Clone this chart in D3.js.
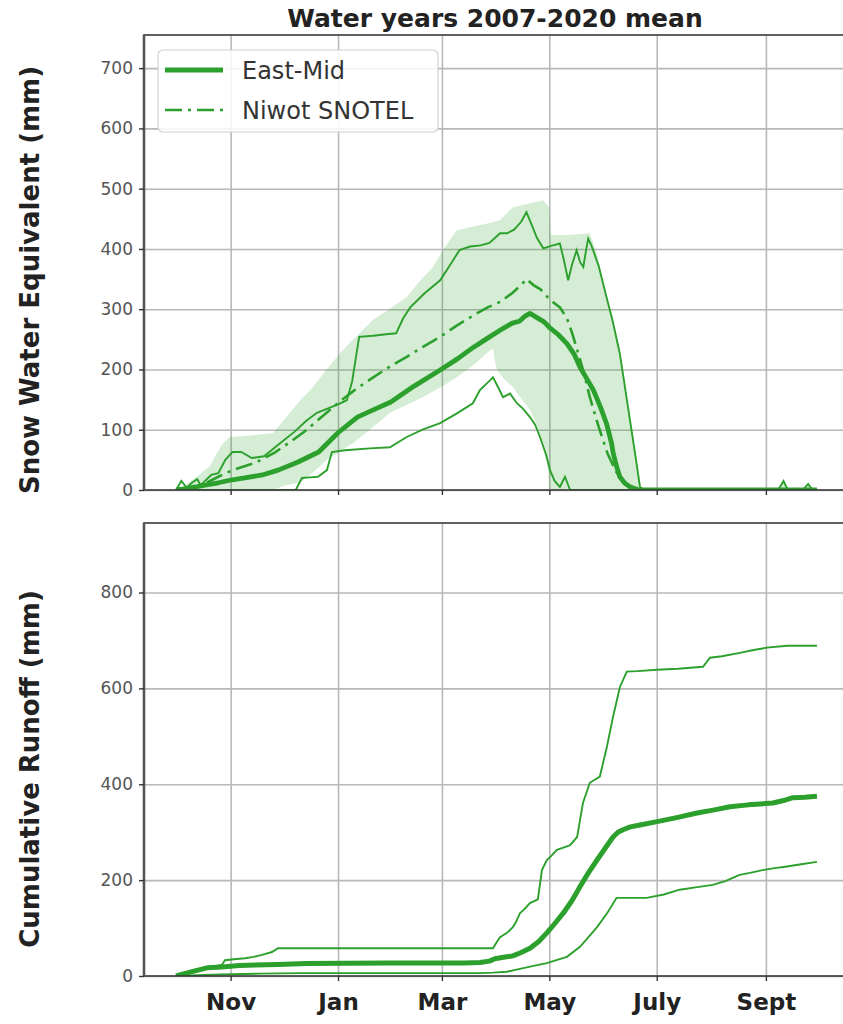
<!DOCTYPE html>
<html>
<head>
<meta charset="utf-8">
<script src="https://cdn.jsdelivr.net/npm/d3@7.9.0/dist/d3.min.js"></script>
<style>
  body { margin: 0; background: #fff; }
  svg { display: block; font-family: 'DejaVu Sans', sans-serif; }
</style>
</head>
<body>
<svg id="chart" width="843" height="1024"></svg>
<script>
// x values are days since Oct 1 (start of the water year)
const monthTickDays = [31, 92, 151, 212, 273, 335];
const monthTickLabels = ['Nov', 'Jan', 'Mar', 'May', 'July', 'Sept'];

const sweTicks = [0, 100, 200, 300, 400, 500, 600, 700];
const runoffTicks = [0, 200, 400, 600, 800];

// Snow water equivalent (mm)
const sweEastMid = [[0,0],[5,2],[11,5],[18,9],[24,12],[32,17],[39,20],[49,25],[58,33],[69,46],[81,63],[92,95],[103,121],[112,133],[122,146],[135,172],[150,199],[160,218],[169,237],[177,252],[184,265],[188,272],[191,277],[195,280],[198,288],[201,293],[205,286],[209,279],[212,270],[217,258],[222,243],[226,226],[229.4,204],[233,186],[237,166],[241,138],[244.5,110],[247.4,77],[248.3,61],[250.2,39],[252,22],[255,11],[258,5],[263,0],[364,0]];

const sweNiwot = [[0,0],[8,4],[16,10],[24,22],[32,33],[45,45],[56,62],[65,80],[73,97],[83,122],[93,147],[102,167],[112,187],[121,204],[131,221],[140,237],[150,254],[159,272],[169,290],[177,303],[184,312],[191,327],[196,340],[199,350],[203,340],[207,333],[211,320],[214,312],[218,303],[222,285],[225,260],[229,221],[232,190],[235,154],[240,105],[245,61],[250,30],[254,12],[258,4],[262,0],[364,0]];

const sweMax = [[0,0],[3,15],[6,4],[9,12],[12,18],[14,8],[16,14],[20,25],[24,28],[28,50],[32,63],[37,63],[43,53],[50,56],[58,75],[67,96],[74,115],[80,128],[86,135],[92,142],[97,149],[100,180],[104,254],[112,256],[118,258],[125,260],[129,285],[133,303],[141,326],[150,348],[156,375],[161,398],[167,404],[173,406],[178,410],[184,426],[188,426],[192,432],[196,445],[199,461],[202,440],[205,418],[208.6,401],[213,405],[218,409],[220,385],[222.7,348],[225,375],[227.5,398],[229.5,378],[231.3,370],[232.7,395],[234.1,417],[236,405],[240,372],[244.5,320],[248,280],[252,227],[255,170],[257.8,116],[261,55],[263.5,5],[266,0],[342,0],[345,15],[347.5,0],[356,0],[359,10],[361.5,0],[364,0]];

const sweMin = [[0,0],[68,0],[71.5,20],[76,21],[80.6,22],[85.7,33],[88.5,63],[96,66],[110,69],[121.5,71],[131,88],[140,100],[150,111],[160,128],[168.6,144],[172.6,166],[178.3,182],[180,187],[183,170],[185.7,154],[189.7,160],[193.6,144],[197,135],[201,121],[204,108],[206.7,88],[210,60],[212.4,33],[215,15],[218,5],[220.9,22],[223.8,0],[364,0]];

const sweBandUpper = [[0,0],[5,8],[10.8,20],[15,30],[19.3,40],[23,60],[26,75],[30.6,88],[40,90],[55,94],[64.7,128],[71,150],[77.8,171],[85,198],[93.1,227],[100,248],[111.8,282],[121,300],[131,320],[138,345],[145.9,370],[152,400],[159.5,431],[170,438],[178.3,443],[184,448],[191.3,469],[200,475],[208.4,481],[211.8,470],[212.9,423],[223.8,423],[235,426],[239,393],[244.5,320],[248,280],[252,227],[255,170],[257.8,116],[261,55],[263.5,5],[266,0],[342,0],[345,15],[347.5,0],[356,0],[359,10],[361.5,0],[364,0]];

const sweBandLower = [[0,0],[55,0],[62,8],[70,12],[76,25],[80,35],[85.7,50],[92,62],[100.5,78],[110,100],[121.5,128],[130,140],[140,154],[150,170],[159.5,187],[170,210],[178.3,232],[180,235],[181,215],[182.3,199],[186,185],[191.3,171],[196,152],[201,133],[206,100],[210.6,61],[211.8,0],[364,0]];

// Cumulative runoff (mm)
const runoffEastMid = [[0,0],[8,8],[17.6,17],[26,19],[36,22],[58,24],[74,26],[120,27],[164,27],[172.6,28],[178,31],[181,36],[186,39],[191.3,42],[196,49],[201,58],[206,72],[210.6,90],[215,109],[219.9,131],[225,158],[229.4,186],[234,214],[239.1,242],[244,268],[248.2,290],[251,300],[253.8,305],[258,311],[263.5,315],[273.2,322],[285,331],[295.9,340],[305,346],[314.6,353],[325,357],[339,361],[345,366],[350.3,372],[357,373],[364,375]];

const runoffMax = [[0,0],[5,6],[10.8,13],[18,18],[26,23],[27.8,33],[33,35],[39.2,37],[44,40],[48.8,44],[54.5,50],[57.9,58],[180,58],[182,70],[184,81],[188,90],[191.3,102],[193,112],[195.3,131],[198,140],[201,152],[205.5,160],[207.8,221],[210.6,242],[213,250],[216.3,263],[220,268],[223.8,273],[227.8,290],[231.1,361],[235,403],[238,410],[240.7,416],[244.7,478],[248.2,541],[252.1,603],[256,635],[262,636],[273.2,639],[285,641],[299.3,645],[303.2,664],[310,667],[320.2,674],[328,680],[335.6,685],[347,689],[364,689]];

const runoffMin = [[0,0],[25,3],[47.7,5],[70.4,6],[172.6,6],[180,7],[187.9,9],[195.3,15],[203,21],[210.6,27],[216,33],[222,40],[229.4,61],[234,80],[239.1,102],[245,132],[250.2,163],[267.3,163],[277,170],[286,180],[295,185],[304.7,190],[312,198],[320,211],[326,215],[333,221],[340,225],[346,228],[355,233],[364,238]];

const green = '#2ca02c';
const svg = d3.select('#chart');

// matplotlib-like 5% margins around the water year
const pad = 364 * 0.05;
const x = d3.scaleLinear().domain([0 - pad, 364 + pad]).range([144, 849]);

const sweY = d3.scaleLinear().domain([0, 755]).range([490, 35]);
const runoffY = d3.scaleLinear().domain([0, 945]).range([976, 523]);

function panel(y, ticks, id, showLabels) {
  const [y0, y1] = y.range();
  const [x0, x1] = x.range();
  const g = svg.append('g');

  g.append('clipPath').attr('id', id)
    .append('rect').attr('x', x0).attr('y', y1)
    .attr('width', x1 - x0).attr('height', y0 - y1);

  // grid
  g.append('g').attr('transform', `translate(0,${y0})`)
    .call(d3.axisBottom(x).tickValues(monthTickDays).tickSize(-(y0 - y1)).tickFormat(''))
    .call((s) => s.select('.domain').remove())
    .selectAll('line').attr('stroke', '#b8b8b8').attr('stroke-width', 1.6);
  g.append('g').attr('transform', `translate(${x0},0)`)
    .call(d3.axisLeft(y).tickValues(ticks).tickSize(-(x1 - x0)).tickFormat(''))
    .call((s) => s.select('.domain').remove())
    .selectAll('line').attr('stroke', '#b8b8b8').attr('stroke-width', 1.6);

  const plot = g.append('g').attr('clip-path', `url(#${id})`);

  // frame
  g.append('rect').attr('x', x0).attr('y', y1)
    .attr('width', x1 - x0).attr('height', y0 - y1)
    .attr('fill', 'none').attr('stroke', '#3a3a3a').attr('stroke-width', 1.6);
  g.append('line').attr('x1', x0).attr('x2', x0).attr('y1', y1).attr('y2', y0)
    .attr('stroke', '#555').attr('stroke-width', 2.6);

  // ticks
  const yAxis = g.append('g').attr('transform', `translate(${x0},0)`)
    .call(d3.axisLeft(y).tickValues(ticks).tickSize(5).tickPadding(6));
  yAxis.select('.domain').remove();
  yAxis.selectAll('line').attr('stroke', '#333').attr('stroke-width', 1.4);
  yAxis.selectAll('text').attr('font-size', 17).attr('fill', '#555')
    .attr('font-family', 'DejaVu Sans');

  const xAxis = g.append('g').attr('transform', `translate(0,${y0})`)
    .call(d3.axisBottom(x).tickValues(monthTickDays).tickSize(5).tickPadding(13)
      .tickFormat((d, i) => (showLabels ? monthTickLabels[i] : '')));
  xAxis.select('.domain').remove();
  xAxis.selectAll('line').attr('stroke', '#333').attr('stroke-width', 1.4);
  xAxis.selectAll('text').attr('font-size', 23).attr('font-weight', 'bold')
    .attr('fill', '#222').attr('font-family', 'DejaVu Sans');

  return plot;
}

const line = (y) => d3.line().x((d) => x(d[0])).y((d) => y(d[1]));

// top panel
const swePlot = panel(sweY, sweTicks, 'clipTop', false);
swePlot.append('path')
  .datum(sweBandUpper.concat(sweBandLower.slice().reverse()))
  .attr('d', (d) => line(sweY)(d) + 'Z')
  .attr('fill', green).attr('fill-opacity', 0.2).attr('stroke', 'none');
[sweMax, sweMin].forEach((s) => {
  swePlot.append('path').datum(s).attr('d', line(sweY))
    .attr('fill', 'none').attr('stroke', green).attr('stroke-width', 1.9);
});
swePlot.append('path').datum(sweNiwot).attr('d', line(sweY))
  .attr('fill', 'none').attr('stroke', green).attr('stroke-width', 2.6)
  .attr('stroke-dasharray', '17,6,3,6');
swePlot.append('path').datum(sweEastMid).attr('d', line(sweY))
  .attr('fill', 'none').attr('stroke', green).attr('stroke-width', 4.8)
  .attr('stroke-linejoin', 'round');

// bottom panel
const runoffPlot = panel(runoffY, runoffTicks, 'clipBot', true);
[runoffMax, runoffMin].forEach((s) => {
  runoffPlot.append('path').datum(s).attr('d', line(runoffY))
    .attr('fill', 'none').attr('stroke', green).attr('stroke-width', 1.9);
});
runoffPlot.append('path').datum(runoffEastMid).attr('d', line(runoffY))
  .attr('fill', 'none').attr('stroke', green).attr('stroke-width', 5)
  .attr('stroke-linejoin', 'round');

// title
svg.append('text').attr('x', 495).attr('y', 27).attr('text-anchor', 'middle')
  .attr('font-size', 25).attr('font-weight', 'bold').attr('fill', '#222')
  .text('Water years 2007-2020 mean');

// y labels
svg.append('text').attr('transform', 'translate(39,280) rotate(-90)')
  .attr('text-anchor', 'middle').attr('font-size', 26).attr('font-weight', 'bold')
  .attr('fill', '#222').text('Snow Water Equivalent (mm)');
svg.append('text').attr('transform', 'translate(39,769) rotate(-90)')
  .attr('text-anchor', 'middle').attr('font-size', 26).attr('font-weight', 'bold')
  .attr('fill', '#222').text('Cumulative Runoff (mm)');

// legend
const legendItems = [
  { label: 'East-Mid', width: 4.8, dash: null },
  { label: 'Niwot SNOTEL', width: 2.6, dash: '17,6,3,6' },
];
const legend = svg.append('g');
legend.append('rect').attr('x', 158).attr('y', 50).attr('width', 280).attr('height', 82)
  .attr('rx', 5).attr('fill', '#fff').attr('fill-opacity', 0.85)
  .attr('stroke', '#d0d0d0').attr('stroke-width', 1.2);
legendItems.forEach((d, i) => {
  const cy = 70 + i * 40;
  legend.append('line').attr('x1', 165).attr('x2', 223).attr('y1', cy).attr('y2', cy)
    .attr('stroke', green).attr('stroke-width', d.width)
    .attr('stroke-dasharray', d.dash);
  legend.append('text').attr('x', 242).attr('y', cy + 8.5)
    .attr('font-size', 24).attr('fill', '#333').text(d.label);
});
</script>
</body>
</html>
